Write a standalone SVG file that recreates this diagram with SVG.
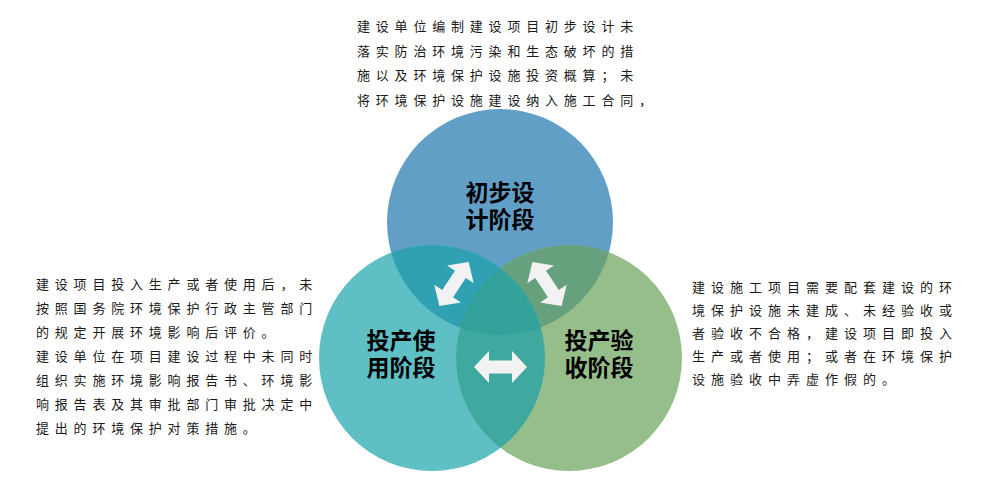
<svg xmlns="http://www.w3.org/2000/svg" xmlns:xlink="http://www.w3.org/1999/xlink" width="982" height="488" viewBox="0 0 982 488">
<style>
.lbl{font-family:"Noto Sans CJK SC","Noto Sans",sans-serif;font-size:23px;font-weight:bold;fill:#000;text-anchor:middle}
.para{font-family:"Noto Sans CJK SC","Noto Sans",sans-serif;font-size:13px;fill:#1a1a1a;letter-spacing:5.8px}
.arr{fill:#F2F2F2}
</style>
<defs>
<clipPath id="cT"><circle cx="500" cy="222" r="113"/></clipPath>
<clipPath id="cL"><circle cx="432" cy="358" r="113"/></clipPath>
<polygon id="arr" points="-26.5,0 -11.5,-16 -11.5,-6.5 11.5,-6.5 11.5,-16 26.5,0 11.5,16 11.5,6.5 -11.5,6.5 -11.5,16"/>
</defs>
<rect width="982" height="488" fill="#fff"/>
<g id="node-design">
<circle cx="500" cy="222" r="113" fill="#619FC7"/>
<text class="lbl" x="500" y="201">初步设<tspan x="500" dy="27">计阶段</tspan></text>
</g>
<g id="node-use">
<circle cx="432" cy="358" r="113" fill="#5EBFC5"/>
<text class="lbl" x="401" y="349">投产使<tspan x="401" dy="27">用阶段</tspan></text>
</g>
<g id="node-accept">
<circle cx="569" cy="358" r="113" fill="#96BE8A"/>
<text class="lbl" x="599" y="349">投产验<tspan x="599" dy="27">收阶段</tspan></text>
</g>
<g id="overlaps">
<circle cx="432" cy="358" r="113" fill="#2FA1B3" clip-path="url(#cT)"/>
<circle cx="569" cy="358" r="113" fill="#66A07C" clip-path="url(#cT)"/>
<circle cx="569" cy="358" r="113" fill="#3FA9A0" clip-path="url(#cL)"/>
<g clip-path="url(#cT)"><circle cx="569" cy="358" r="113" fill="#32A29A" clip-path="url(#cL)"/></g>
</g>
<g id="connectors">
<use xlink:href="#arr" class="arr" transform="translate(500.5,367)"/>
<use xlink:href="#arr" class="arr" transform="translate(454,284) rotate(-56.5)"/>
<use xlink:href="#arr" class="arr" transform="translate(547,284) rotate(56.5)"/>
</g>
<g id="note-design">
<text class="para" x="357" y="31">建设单位编制建设项目初步设计未</text>
<text class="para" x="357" y="55.5">落实防治环境污染和生态破坏的措</text>
<text class="para" x="357" y="80">施以及环境保护设施投资概算；未</text>
<text class="para" x="357" y="104.5">将环境保护设施建设纳入施工合同，</text>
</g>
<g id="note-use">
<text class="para" x="36" y="289">建设项目投入生产或者使用后，未</text>
<text class="para" x="36" y="313">按照国务院环境保护行政主管部门</text>
<text class="para" x="36" y="337">的规定开展环境影响后评价。</text>
<text class="para" x="36" y="361">建设单位在项目建设过程中未同时</text>
<text class="para" x="36" y="385">组织实施环境影响报告书、环境影</text>
<text class="para" x="36" y="409">响报告表及其审批部门审批决定中</text>
<text class="para" x="36" y="433">提出的环境保护对策措施。</text>
</g>
<g id="note-accept">
<text class="para" x="692" y="292" style="letter-spacing:6px">建设施工项目需要配套建设的环</text>
<text class="para" x="692" y="315" style="letter-spacing:6px">境保护设施未建成、未经验收或</text>
<text class="para" x="692" y="338" style="letter-spacing:6px">者验收不合格，建设项目即投入</text>
<text class="para" x="692" y="361" style="letter-spacing:6px">生产或者使用；或者在环境保护</text>
<text class="para" x="692" y="384" style="letter-spacing:6px">设施验收中弄虚作假的。</text>
</g>
</svg>
